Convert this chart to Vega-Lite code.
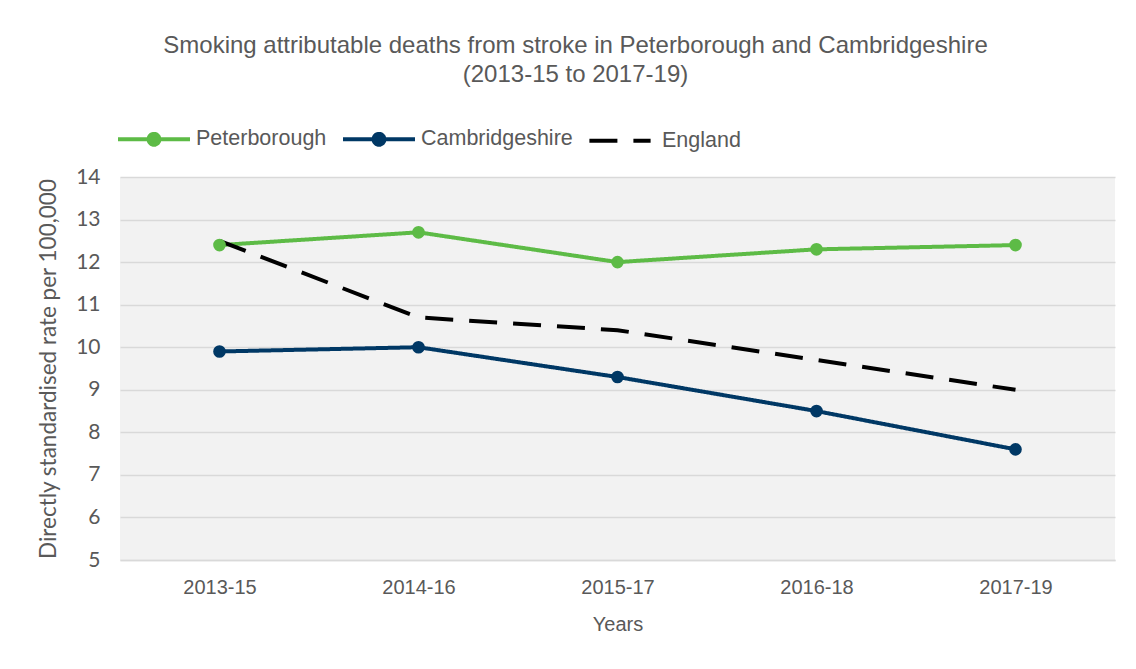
{
  "$schema": "https://vega.github.io/schema/vega-lite/v6.json",
  "width": 995,
  "height": 383,
  "autosize": {"type": "none"},
  "padding": {"left": 120, "top": 177, "right": 21, "bottom": 109},
  "background": "white",
  "title": {
    "text": ["Smoking attributable deaths from stroke in Peterborough and Cambridgeshire", "(2013-15 to 2017-19)"],
    "font": "Liberation Sans",
    "fontSize": 24,
    "fontWeight": "normal",
    "color": "#595959",
    "anchor": "middle",
    "dx": -42,
    "offset": 14,
    "lineHeight": 29
  },
  "data": {
    "values": [
      {"period": "2013-15", "area": "Peterborough", "rate": 12.4},
      {"period": "2014-16", "area": "Peterborough", "rate": 12.7},
      {"period": "2015-17", "area": "Peterborough", "rate": 12.0},
      {"period": "2016-18", "area": "Peterborough", "rate": 12.3},
      {"period": "2017-19", "area": "Peterborough", "rate": 12.4},
      {"period": "2013-15", "area": "Cambridgeshire", "rate": 9.9},
      {"period": "2014-16", "area": "Cambridgeshire", "rate": 10.0},
      {"period": "2015-17", "area": "Cambridgeshire", "rate": 9.3},
      {"period": "2016-18", "area": "Cambridgeshire", "rate": 8.5},
      {"period": "2017-19", "area": "Cambridgeshire", "rate": 7.6},
      {"period": "2013-15", "area": "England", "rate": 12.5},
      {"period": "2014-16", "area": "England", "rate": 10.7},
      {"period": "2015-17", "area": "England", "rate": 10.4},
      {"period": "2016-18", "area": "England", "rate": 9.7},
      {"period": "2017-19", "area": "England", "rate": 9.0}
    ]
  },
  "encoding": {
    "x": {
      "field": "period",
      "type": "ordinal",
      "scale": {"type": "point", "padding": 0.5},
      "axis": {
        "title": "Years",
        "labelAngle": 0,
        "labelFont": "Liberation Sans",
        "labelFontSize": 20,
        "labelColor": "#595959",
        "labelPadding": 17,
        "titleFont": "Liberation Sans",
        "titleFontSize": 20,
        "titleFontWeight": "normal",
        "titleColor": "#595959",
        "titlePadding": 17,
        "ticks": false,
        "domainColor": "#D9D9D9",
        "domainWidth": 1.5
      }
    },
    "y": {
      "field": "rate",
      "type": "quantitative",
      "scale": {"domain": [5, 14], "nice": false, "zero": false},
      "axis": {
        "title": "Directly standardised rate per 100,000",
        "values": [5, 6, 7, 8, 9, 10, 11, 12, 13, 14],
        "labelFont": "Lato",
        "labelFontSize": 21,
        "labelColor": "#595959",
        "labelPadding": 20,
        "titleFont": "Lato",
        "titleFontSize": 22.5,
        "titleFontWeight": "normal",
        "titleColor": "#595959",
        "titlePadding": 15,
        "ticks": false,
        "domain": false,
        "gridColor": "#D9D9D9",
        "gridWidth": 1.5
      }
    },
    "color": {
      "field": "area",
      "type": "nominal",
      "scale": {"domain": ["Peterborough", "Cambridgeshire", "England"], "range": ["#5DBB46", "#003865", "#000000"]},
      "legend": {
        "title": null,
        "orient": "none",
        "legendX": -4,
        "legendY": -76,
        "direction": "horizontal",
        "labelFont": "Liberation Sans",
        "labelFontSize": 21.5,
        "labelColor": "#595959",
        "symbolSize": 5184,
        "symbolStrokeWidth": 4,
        "labelOffset": 4,
        "columnPadding": 8,
        "encode": {
          "symbols": {
            "update": {
              "shape": {"signal": "datum.value === 'England' ? 'M-0.85,0L0.85,0' : 'M-1,0L1,0M-0.15,0A0.15,0.15 0 1,0 0.15,0A0.15,0.15 0 1,0 -0.15,0Z'"},
              "fill": {"signal": "datum.value === 'England' ? 'transparent' : scale('color', datum.value)"},
              "strokeDash": {"signal": "datum.value === 'England' ? [22, 17] : [1, 0]"}
            }
          }
        }
      }
    }
  },
  "layer": [
    {
      "mark": {"type": "line", "strokeWidth": 4},
      "encoding": {
        "strokeDash": {
          "field": "area",
          "type": "nominal",
          "scale": {"domain": ["Peterborough", "Cambridgeshire", "England"], "range": [[1, 0], [1, 0], [28, 16]]},
          "legend": null
        }
      }
    },
    {
      "transform": [{"filter": "datum.area !== 'England'"}],
      "mark": {"type": "circle", "size": 160, "opacity": 1},
      "encoding": {}
    }
  ],
  "config": {
    "view": {"fill": "#F2F2F2", "stroke": null}
  }
}
